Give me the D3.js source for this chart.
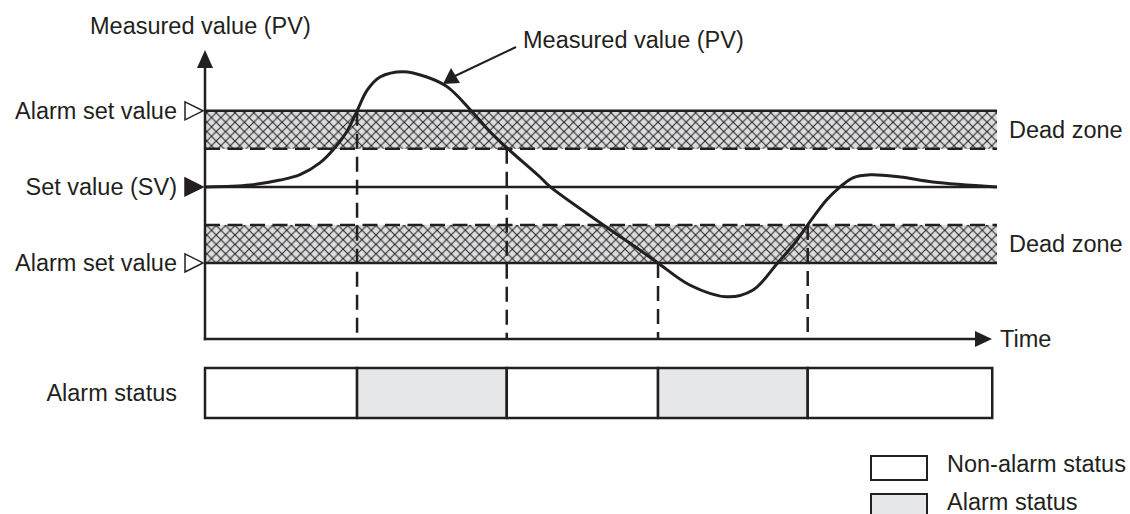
<!DOCTYPE html>
<html>
<head>
<meta charset="utf-8">
<script src="https://cdn.jsdelivr.net/npm/d3@7"></script>
<style>
  body { margin: 0; background: #fff; }
  text { font-family: "Liberation Sans", Arial, sans-serif; font-size: 23.5px; fill: #231f20; }
</style>
</head>
<body>
<svg id="alarmViz"></svg>
<script>
// measured value (PV) curve, time 0..100, value in dead-zone units (SV = 0)
var pvTime  = [0, 5.7, 9.5, 12, 14.5, 16.4, 17.9, 19.2, 20.5, 22.1, 25, 28, 30.6, 33.5, 36, 38.1, 42.3, 43.6,
               50.3, 54.9, 57.2, 61.2, 65.9, 69.2, 72.3, 74.5, 76.1, 78.5, 80.2, 81.8, 84, 87.8, 91.9, 100];
var pvValue = [0, 0.05, 0.18, 0.32, 0.63, 1.03, 1.45, 2, 2.55, 2.89, 3.03, 2.89, 2.63, 2.03, 1.45, 1.03, 0.26, 0,
               -1, -1.66, -2, -2.58, -2.89, -2.71, -2, -1.47, -1, -0.34, 0, 0.24, 0.32, 0.26, 0.13, 0];

// levels
var setValue = 0;
var alarmHigh = 2;
var alarmLow = -2;
var deadHigh = 1;
var deadLow = -1;

var levelLabels = ["Alarm set value", "Set value (SV)", "Alarm set value"];
var levelValues = [alarmHigh, setValue, alarmLow];
var levelFilled = [false, true, false];

// points where alarm switches
var switchTimes  = [19.2, 38.1, 57.2, 76.1];
var switchValues = [alarmHigh, deadHigh, alarmLow, deadLow];

// alarm status row
var statusStart = [0, 19.2, 38.1, 57.2, 76.1];
var statusEnd   = [19.2, 38.1, 57.2, 76.1, 99.4];
var statusOn    = [false, true, false, true, false];

var legendLabels = ["Non-alarm status", "Alarm status"];
var legendOn = [false, true];

var width = 1130;
var height = 514;
var ink = "#231f20";
var grey = "#e6e7e8";

var svg = d3.select("#alarmViz")
    .attr("width", width)
    .attr("height", height);

var x_scale = d3.scaleLinear()
    .domain([0, 100])
    .range([205, 997]);

var y_scale = d3.scaleLinear()
    .domain([-4, 3.6])
    .range([339, 50]);

// hatch pattern for dead zones
var defs = svg.append("defs");
var pat = defs.append("pattern")
    .attr("id", "hatch")
    .attr("patternUnits", "userSpaceOnUse")
    .attr("width", 9.4)
    .attr("height", 9.4);
pat.append("rect").attr("width", 9.4).attr("height", 9.4).attr("fill", "#dcddde");
pat.append("path")
    .attr("d", "M0,0 L9.4,9.4 M9.4,0 L0,9.4 M-1,8.4 L1,10.4 M8.4,-1 L10.4,1")
    .attr("stroke", "#2a2727")
    .attr("stroke-width", 1.1);

// dead zone bands
var bands = [[deadHigh, alarmHigh], [alarmLow, deadLow]];
svg.selectAll(".band")
    .data(bands)
    .enter().append("rect")
    .attr("class", "band")
    .attr("x", x_scale(0))
    .attr("width", x_scale(100) - x_scale(0))
    .attr("y", function (d) { return y_scale(d[1]); })
    .attr("height", function (d) { return y_scale(d[0]) - y_scale(d[1]); })
    .attr("fill", "url(#hatch)");

// solid level lines
svg.selectAll(".level")
    .data(levelValues)
    .enter().append("line")
    .attr("class", "level")
    .attr("x1", x_scale(0)).attr("x2", x_scale(100))
    .attr("y1", function (d) { return y_scale(d); })
    .attr("y2", function (d) { return y_scale(d); })
    .attr("stroke", ink).attr("stroke-width", 2.5);

// dashed dead zone edges
svg.selectAll(".dead")
    .data([deadHigh, deadLow])
    .enter().append("line")
    .attr("class", "dead")
    .attr("x1", x_scale(0)).attr("x2", x_scale(100))
    .attr("y1", function (d) { return y_scale(d); })
    .attr("y2", function (d) { return y_scale(d); })
    .attr("stroke", ink).attr("stroke-width", 2.5)
    .attr("stroke-dasharray", "15,7.5");

// vertical dashed switch lines
svg.selectAll(".switch")
    .data(switchTimes)
    .enter().append("line")
    .attr("class", "switch")
    .attr("x1", function (d) { return x_scale(d); })
    .attr("x2", function (d) { return x_scale(d); })
    .attr("y1", function (d, i) { return y_scale(switchValues[i]); })
    .attr("y2", y_scale(-4))
    .attr("stroke", ink).attr("stroke-width", 2.5)
    .attr("stroke-dasharray", "15,8");

// axes
var yTop = y_scale(3.6);
var yBot = y_scale(-4);
svg.append("line")
    .attr("x1", x_scale(0)).attr("x2", x_scale(0))
    .attr("y1", yBot + 1.2).attr("y2", yTop + 16)
    .attr("stroke", ink).attr("stroke-width", 2.5);
svg.append("path")
    .attr("d", "M" + (x_scale(0) - 8) + "," + (yTop + 18) + " L" + x_scale(0) + "," + yTop + " L" + (x_scale(0) + 8) + "," + (yTop + 18) + " Z")
    .attr("fill", ink);

svg.append("line")
    .attr("x1", x_scale(0) - 1.2).attr("x2", 978)
    .attr("y1", yBot).attr("y2", yBot)
    .attr("stroke", ink).attr("stroke-width", 2.5);
svg.append("path")
    .attr("d", "M975," + (yBot - 8) + " L992," + yBot + " L975," + (yBot + 8) + " Z")
    .attr("fill", ink);

// PV line
var pvData = pvTime.map(function (t, i) { return { t: t, v: pvValue[i] }; });
var pvLine = d3.line()
    .x(function (d) { return x_scale(d.t); })
    .y(function (d) { return y_scale(d.v); })
    .curve(d3.curveCatmullRom.alpha(0.5));
svg.append("path")
    .attr("d", pvLine(pvData))
    .attr("fill", "none")
    .attr("stroke", ink)
    .attr("stroke-width", 3);

// level markers and labels
svg.selectAll(".marker")
    .data(levelValues)
    .enter().append("path")
    .attr("class", "marker")
    .attr("d", function (d) {
        var yy = y_scale(d);
        return "M185," + (yy - 9) + " L203," + yy + " L185," + (yy + 9) + " Z";
    })
    .attr("fill", function (d, i) { return levelFilled[i] ? ink : "#fff"; })
    .attr("stroke", ink)
    .attr("stroke-width", 1.5);

svg.selectAll(".levelLabel")
    .data(levelValues)
    .enter().append("text")
    .attr("class", "levelLabel")
    .attr("x", 177)
    .attr("y", function (d) { return y_scale(d); })
    .attr("dy", "0.35em")
    .attr("text-anchor", "end")
    .text(function (d, i) { return levelLabels[i]; });

svg.selectAll(".deadLabel")
    .data(bands)
    .enter().append("text")
    .attr("class", "deadLabel")
    .attr("x", 1009)
    .attr("y", function (d) { return (y_scale(d[0]) + y_scale(d[1])) / 2; })
    .attr("dy", "0.35em")
    .text("Dead zone");

svg.append("text")
    .attr("x", 1000).attr("y", yBot).attr("dy", "0.35em")
    .text("Time");

svg.append("text")
    .attr("x", 90).attr("y", 34)
    .text("Measured value (PV)");

// annotation
svg.append("text")
    .attr("x", 523).attr("y", 48)
    .text("Measured value (PV)");
svg.append("line")
    .attr("x1", 516).attr("y1", 47)
    .attr("x2", 455).attr("y2", 76)
    .attr("stroke", ink).attr("stroke-width", 2);
svg.append("path")
    .attr("d", "M443,84 L451,68 L460,83 Z")
    .attr("fill", ink);

// alarm status row
var rowTop = 368, rowH = 50;
svg.selectAll(".status")
    .data(statusStart)
    .enter().append("rect")
    .attr("class", "status")
    .attr("x", function (d) { return x_scale(d); })
    .attr("width", function (d, i) { return x_scale(statusEnd[i]) - x_scale(d); })
    .attr("y", rowTop)
    .attr("height", rowH)
    .attr("fill", function (d, i) { return statusOn[i] ? grey : "#fff"; })
    .attr("stroke", ink)
    .attr("stroke-width", 2.5);

svg.append("text")
    .attr("x", 177).attr("y", rowTop + rowH / 2).attr("dy", "0.35em")
    .attr("text-anchor", "end")
    .text("Alarm status");

// legend
svg.selectAll(".legBox")
    .data(legendOn)
    .enter().append("rect")
    .attr("class", "legBox")
    .attr("x", 871)
    .attr("y", function (d, i) { return 456 + i * 38; })
    .attr("width", 56)
    .attr("height", 24)
    .attr("fill", function (d) { return d ? grey : "#fff"; })
    .attr("stroke", ink)
    .attr("stroke-width", 2);

svg.selectAll(".legText")
    .data(legendLabels)
    .enter().append("text")
    .attr("class", "legText")
    .attr("x", 947)
    .attr("y", function (d, i) { return 464 + i * 38; })
    .attr("dy", "0.35em")
    .text(function (d) { return d; });
</script>
</body>
</html>
